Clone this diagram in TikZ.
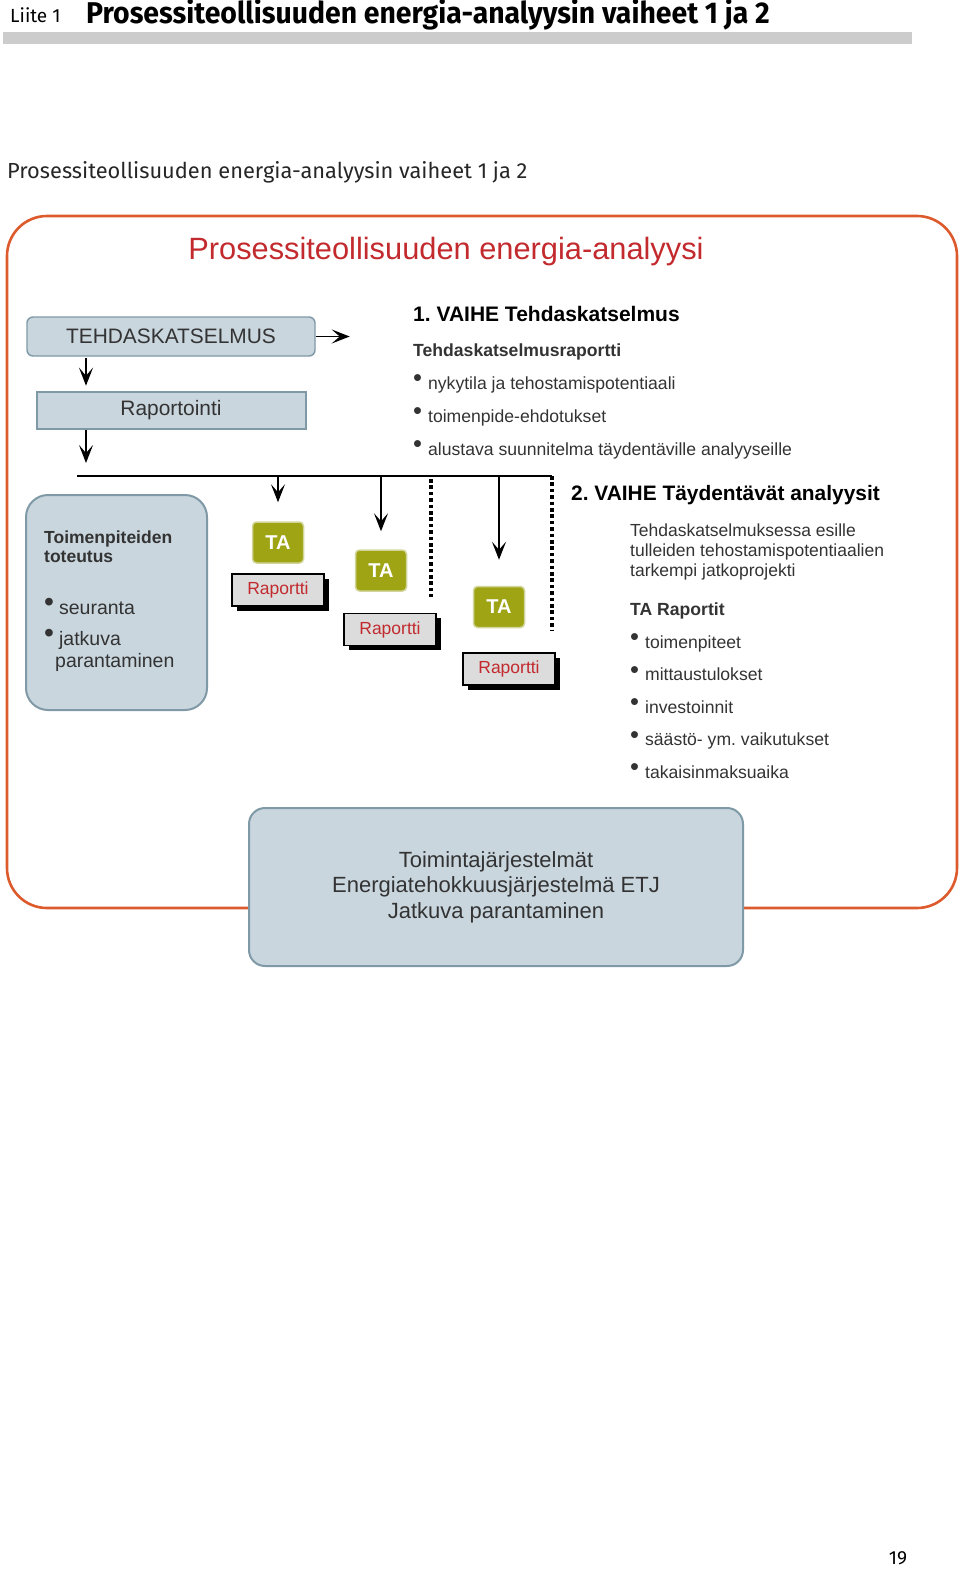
\documentclass[tikz,border=0pt]{standalone}
\usepackage{fontspec}
\setmainfont{Liberation Sans}
\newfontfamily\hdfont{Fira Sans}
\usetikzlibrary{positioning,calc,shadows,arrows.meta}
\definecolor{kehys}{HTML}{DD5A2C}
\definecolor{otsred}{HTML}{C22A2E}
\definecolor{laatikko}{HTML}{C9D6DE}
\definecolor{reuna}{HTML}{7F99A7}
\definecolor{oliivi}{HTML}{9EA414}
\definecolor{oliivireuna}{HTML}{D2D59A}
\definecolor{harmaa}{HTML}{DCDCDC}
\definecolor{teksti}{HTML}{333333}
\newcommand{\fs}[2]{\fontsize{#1}{#2}\selectfont}
\newcommand{\bul}{\raisebox{.14em}{\scalebox{1.45}{\textbullet}}}
\frenchspacing

\begin{document}
\begin{tikzpicture}[x=1pt,y=-1pt,
  every node/.style={inner sep=0pt,text=teksti},%
  e/.style={-{Stealth[length=18pt,width=14pt,inset=8pt]},line width=1.9pt,draw=black},%
  bl/.style={fill=laatikko,draw=reuna,line width=1.4pt},%
  ta/.style={fill=oliivi,draw=oliivireuna,line width=1.5pt,rounded corners=4pt,%
    minimum width=51pt,minimum height=41pt,text=white,font=\fs{20}{24}\bfseries},%
  rap/.style={fill=harmaa,draw=black,line width=1.2pt,minimum width=92pt,minimum height=32pt,%
    text=otsred,font=\fs{17.5}{20},%
    drop shadow={shadow xshift=4.5pt,shadow yshift=-4.5pt,fill=black,opacity=1}},%
  sep/.style={line width=3.6pt,dash pattern=on 3.6pt off 2.8pt},%
  ]
  \useasboundingbox (0,0) rectangle (960,1572);

  % sivun otsikot (monirivisen solmun base = viimeinen rivi)
  \node[anchor=base west,font=\hdfont\fs{19}{22},text=black] (liite) at (10,22) {Liite 1};
  \node[anchor=base west,font=\hdfont\fs{30}{34}\bfseries,text=black] (paaots) at (86,23)
  {\scalebox{.946}[1]{Prosessiteollisuuden energia-analyysin vaiheet 1 ja 2}};
  \fill[gray!40] (3,32) rectangle (912,44);
  \node[anchor=base west,font=\hdfont\fs{21.8}{24},text=black!85] (alaots) at (7,178)
  {Prosessiteollisuuden energia-analyysin vaiheet 1 ja 2};

  % kehys
  \draw[kehys,line width=2.6pt,rounded corners=40pt] (7,216) rectangle (957,908);
  \node[anchor=base,font=\fs{30.8}{34},text=otsred] (ots) at (446,259) {Prosessiteollisuuden energia-analyysi};

  % vaihe 1
  \node (tk) [bl,rounded corners=6pt,minimum width=288pt,minimum height=39pt,font=\fs{20.9}{24}]
  at (171,336.5) {TEHDASKATSELMUS};
  \node (rapo) [bl,below=34pt of tk,minimum width=269pt,minimum height=37pt,line width=2pt,
  font=\fs{20.9}{24}] {Raportointi};
  \coordinate[right=34pt of tk.east] (v1);
  \coordinate (ax) at (86,0);
  \coordinate (busL) at (77,476);
  \coordinate (busR) at (552,476);

  \node[anchor=base west,font=\fs{21}{24}\bfseries,text=black] (vaihe1) at (413,321) {1. VAIHE Tehdaskatselmus};
  \node[anchor=base west,font=\fs{17.6}{33},align=left] (lista1) at (413,455)
  {\textbf{Tehdaskatselmusraportti}\\
    \bul\hspace{6pt}nykytila ja tehostamispotentiaali\\
    \bul\hspace{6pt}toimenpide-ehdotukset\\
    \bul\hspace{6pt}alustava suunnitelma täydentäville analyyseille};

  % vaihe 2
  \node[anchor=base west,font=\fs{20.9}{24}\bfseries,text=black] (vaihe2) at (571,500) {2. VAIHE Täydentävät analyysit};
  \node[anchor=base west,font=\fs{17.5}{20},align=left] (kuvaus) at (630,576)
  {Tehdaskatselmuksessa esille\\tulleiden tehostamispotentiaalien\\tarkempi jatkoprojekti};
  \node[anchor=base west,font=\fs{17.6}{32.5},align=left] (lista2) at (630,778)
  {\textbf{TA Raportit}\\
    \bul\hspace{6pt}toimenpiteet\\
    \bul\hspace{6pt}mittaustulokset\\
    \bul\hspace{6pt}investoinnit\\
    \bul\hspace{6pt}säästö- ym. vaikutukset\\
    \bul\hspace{6pt}takaisinmaksuaika};

  % toteutus
  \node (toteutus) [bl,rounded corners=22pt,minimum width=181pt,minimum height=215pt,line width=2pt]
  at (116.5,602.5) {};
  \node[anchor=base west,font=\fs{17.5}{18.5}\bfseries,align=left] (totots) at (44,562)
  {Toimenpiteiden\\toteutus};
  \node[anchor=base west,font=\fs{19.5}{31},align=left] (totlista) at (44,667)
  {\bul\hspace{5pt}seuranta\\ \bul\hspace{5pt}jatkuva\\[-9pt] \hspace*{11pt}parantaminen};

  % TA-analyysit
  \node[ta] (ta1) at (278,542.5) {TA};
  \node[ta] (ta2) at (381,570.5) {TA};
  \node[ta] (ta3) at (499,607) {TA};
  \node[rap] (r1) at (278,590) {Raportti};
  \node[rap] (r2) at (390,629.5) {Raportti};
  \node[rap] (r3) at (509,669) {Raportti};

  \draw[sep] (431,479) -- (431,597);
  \draw[sep] (busR) -- (552,630);
  \draw[line width=1.8pt] (busL) -- (busR);

  \draw [e] (tk.east) -- (v1);
  \draw [e,shorten <=1pt,shorten >=5pt] (tk.south -| ax) -- (rapo.north -| ax);
  \draw [e,shorten >=13pt] (rapo.south -| ax) -- (busL -| ax);
  \draw [e,shorten >=19pt] (busL -| ta1) -- (ta1.north);
  \draw [e,shorten >=18pt] (busL -| ta2) -- (ta2.north);
  \draw [e,shorten >=26pt] (busL -| ta3) -- (ta3.north);

  % toimintajärjestelmät
  \node (etj) [bl,rounded corners=16pt,minimum width=494pt,minimum height=158pt,line width=2pt,
  font=\fs{22}{25.5},align=center] at (496,887)
  {Toimintajärjestelmät\\Energiatehokkuusjärjestelmä ETJ\\Jatkuva parantaminen};

  \node[anchor=base,font=\hdfont\fs{19}{22},text=black] (sivu) at (898,1564) {19};
\end{tikzpicture}
\end{document}
